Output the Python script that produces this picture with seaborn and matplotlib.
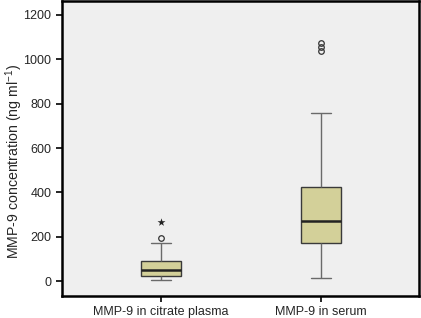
import numpy as np
import pandas as pd
import matplotlib
matplotlib.use('Agg')
import matplotlib.pyplot as plt
import seaborn as sns

# data (raw values chosen to give the drawn quartiles)
# -----------------------------------------------------------------------------
groups = ['MMP-9 in citrate plasma', 'MMP-9 in serum']
citrate = [6, 12, 18, 24, 32, 40, 48, 58, 72, 90, 120, 170, 194]
serum = [15, 60, 110, 150, 172, 200, 230, 250, 269, 300, 340, 390, 425,
         758, 1037, 1057, 1075]
citrate_extreme = [268]   # drawn with a star (extreme value)
y_ticks = [0, 200, 400, 600, 800, 1000, 1200]
# -----------------------------------------------------------------------------

df = pd.DataFrame({
    'group': [groups[0]] * len(citrate) + [groups[1]] * len(serum),
    'value': citrate + serum,
})
df_ext = pd.DataFrame({'group': [groups[0]] * len(citrate_extreme),
                       'value': citrate_extreme})

sns.set_style('ticks')
plt.rcParams['font.family'] = ['Liberation Sans', 'DejaVu Sans']
plt.rcParams['mathtext.default'] = 'regular'

fig = plt.figure(figsize=(4.21, 3.18), dpi=100)
ax = fig.add_axes([0.147, 0.070, 0.848, 0.927])
ax.set_facecolor('#efefef')

sns.boxplot(data=df, x='group', y='value', order=groups, ax=ax,
            color='#d3d099', width=0.25, linewidth=1.0, linecolor='#555555',
            saturation=1,
            boxprops={'edgecolor': '#3a3a3a'},
            medianprops={'color': '#222222', 'linewidth': 1.8},
            whiskerprops={'color': '#6a6a6a'},
            capprops={'color': '#6a6a6a'},
            flierprops={'marker': 'o', 'markersize': 4,
                        'markerfacecolor': 'none',
                        'markeredgecolor': '#333333',
                        'markeredgewidth': 0.9})
sns.stripplot(data=df_ext, x='group', y='value', order=groups, ax=ax,
              marker='*', size=6, color='#222222', jitter=False)

ax.set_xlim(-0.62, 1.61)
ax.set_ylim(-66, 1263)
ax.set_yticks(y_ticks)
ax.set_xlabel('')
ax.set_ylabel(r'MMP-9 concentration (ng ml$^{-1}$)', fontsize=10.2)
ax.yaxis.set_label_coords(-0.104, 0.455)
ax.tick_params(axis='both', labelsize=9, length=4, width=1.2,
               color='black')
for s in ax.spines.values():
    s.set_linewidth(1.8)
    s.set_color('black')

plt.savefig('out.png', dpi=100)
